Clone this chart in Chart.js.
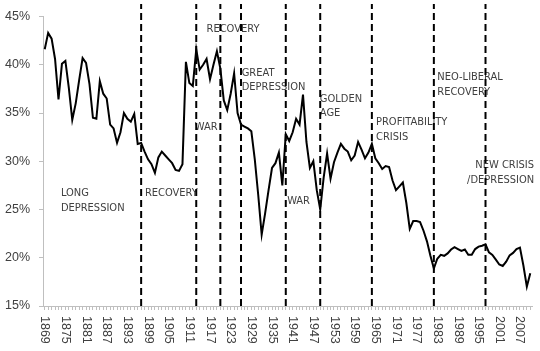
<!DOCTYPE html>
<html>
<head>
<meta charset="utf-8">
<script src="https://cdn.jsdelivr.net/npm/chart.js@4.4.0/dist/chart.umd.min.js"></script>
<style>
  body { margin: 0; background: #fff; }
  #wrap { width: 540px; height: 351px; }
</style>
</head>
<body>
<div id="wrap"><canvas id="grafico" width="540" height="351"></canvas></div>
<script>
// DADOS
const firstYear = 1869;
const lastYear = 2010;

const years = [];
for (let y = firstYear; y <= lastYear; y++) years.push(String(y));

// taxa de lucro (%), 1869-2010
const profitRate = [
  41.6, 43.3, 42.7, 40.6, 36.4, 40.1, 40.4, 37.6, 34.3, 36.0,   // 1869-1878
  38.4, 40.7, 40.2, 38.0, 34.5, 34.4, 38.3, 37.0, 36.5, 33.8,   // 1879-1888
  33.4, 31.9, 33.0, 35.0, 34.4, 34.1, 34.9, 31.8, 31.9, 31.0,   // 1889-1898
  30.2, 29.7, 28.8, 30.4, 31.0, 30.6, 30.2, 29.8, 29.1, 29.0,   // 1899-1908
  29.7, 40.3, 38.1, 37.8, 41.6, 39.5, 40.0, 40.6, 38.5, 40.0,   // 1909-1918
  41.4, 39.6, 36.3, 35.3, 37.0, 39.1, 35.0, 33.8, 33.6, 33.4,   // 1919-1928
  33.1, 30.2, 26.5, 22.4, 24.6, 27.0, 29.3, 29.8, 30.9, 27.5,   // 1929-1938
  32.8, 32.1, 33.0, 34.4, 33.8, 36.9, 32.0, 29.3, 30.0, 27.0,   // 1939-1948
  25.0, 28.3, 30.8, 28.2, 29.9, 30.9, 31.8, 31.3, 31.0, 30.1,   // 1949-1958
  30.6, 32.0, 31.2, 30.3, 30.9, 31.8, 30.3, 29.8, 29.2, 29.5,   // 1959-1968
  29.4, 28.0, 27.0, 27.4, 27.8, 25.7, 23.0, 23.8, 23.8, 23.7,   // 1969-1978
  22.8, 21.7, 20.2, 18.9, 19.9, 20.3, 20.2, 20.45, 20.85, 21.1, // 1979-1988
  20.9, 20.7, 20.85, 20.3, 20.3, 20.9, 21.15, 21.25, 21.4, 20.55, // 1989-1998
  20.3, 19.8, 19.3, 19.15, 19.6, 20.25, 20.5, 20.9, 21.05, 19.2, // 1999-2008
  17.0, 18.4                                                     // 2009-2010
];

// anos das linhas tracejadas (mudanca de fase)
const phaseYears = ['1897', '1913', '1920', '1926', '1939', '1949', '1964', '1982', '1997'];
const phaseSpan = [15, 46.3];

const yTicks = [15, 20, 25, 30, 35, 40, 45];

// textos das fases: ano e valor de ancoragem
const phaseNotes = [
  { lines: ['LONG', 'DEPRESSION'], year: 1873.7, value: 26.66 },
  { lines: ['RECOVERY'], year: 1898.1, value: 26.66 },
  { lines: ['WAR'], year: 1912.6, value: 33.57 },
  { lines: ['RECOVERY'], year: 1916.0, value: 43.74 },
  { lines: ['GREAT', 'DEPRESSION'], year: 1926.2, value: 39.15 },
  { lines: ['WAR'], year: 1939.4, value: 25.82 },
  { lines: ['GOLDEN', 'AGE'], year: 1948.9, value: 36.46 },
  { lines: ['PROFITABILITY', 'CRISIS'], year: 1965.2, value: 34.05 },
  { lines: ['NEO-LIBERAL', 'RECOVERY'], year: 1983.0, value: 38.67 },
  { lines: ['NEW CRISIS', '/DEPRESSION'], year: 2011.1, value: 29.56, align: 'right' }
];

//  PLUGIN DE TEXTOS
const textos = {
  id: 'textos',
  beforeDatasetsDraw(chart) {
    const ctx = chart.ctx;
    const xs = chart.scales.x;
    const ys = chart.scales.y;
    ctx.save();
    ctx.fillStyle = '#404040';
    ctx.textBaseline = 'middle';

    // rotulos do eixo x (girados no sentido horario)
    ctx.font = '12.5px "Liberation Sans", Arial, sans-serif';
    ctx.textAlign = 'left';
    xs.ticks.forEach(function (t, i) {
      if (!t.label) return;
      ctx.save();
      ctx.translate(xs.getPixelForTick(i), chart.chartArea.bottom + 10);
      ctx.rotate(Math.PI / 2);
      ctx.fillText(t.label, 0, 0);
      ctx.restore();
    });

    // notas das fases
    ctx.font = '11px "Liberation Sans Narrow", "DejaVu Sans Condensed", sans-serif';
    phaseNotes.forEach(function (n) {
      const px = xs.getPixelForValue(n.year - firstYear);
      const py = ys.getPixelForValue(n.value);
      ctx.textAlign = n.align || 'left';
      n.lines.forEach(function (s, k) {
        ctx.fillText(s, px, py + k * 14.5);
      });
    });
    ctx.restore();
  }
};

//  DATASETS
const datasets = [
  {
    label: 'taxa de lucro',
    data: profitRate,
    borderColor: '#000',
    borderWidth: 2,
    pointRadius: 0,
    tension: 0,
    order: 1
  }
];

phaseYears.forEach(function (ano) {
  datasets.push({
    label: 'fase ' + ano,
    data: [{ x: ano, y: phaseSpan[0] }, { x: ano, y: phaseSpan[1] }],
    borderColor: '#000',
    borderWidth: 2,
    borderDash: [7, 4],
    pointRadius: 0,
    clip: false,
    order: 2
  });
});

//  GRAFICO
new Chart(document.getElementById('grafico'), {
  type: 'line',
  data: { labels: years, datasets: datasets },
  options: {
    responsive: false,
    animation: false,
    events: [],
    layout: { padding: { top: 13, right: 8, left: 0, bottom: 0 } },
    plugins: {
      legend: { display: false },
      tooltip: { enabled: false }
    },
    scales: {
      x: {
        type: 'category',
        offset: true,
        border: { color: '#bfbfbf', width: 1 },
        grid: { display: true, drawOnChartArea: false, color: '#bfbfbf', tickLength: 4 },
        ticks: {
          display: false,
          autoSkip: false,
          callback: function (v, i) {
            return (i % 6 === 0) ? years[i] : '';
          }
        },
        afterFit: function (s) { s.height = 45; }
      },
      y: {
        min: 15,
        max: 45,
        border: { color: '#bfbfbf', width: 1 },
        grid: { display: true, drawOnChartArea: false, color: '#bfbfbf', tickLength: 4 },
        afterBuildTicks: function (s) {
          s.ticks = yTicks.map(function (v) { return { value: v }; });
        },
        ticks: {
          color: '#404040',
          padding: 9,
          font: { family: '"Liberation Sans", Arial, sans-serif', size: 12.5 },
          callback: function (v) { return v + '%'; }
        },
        afterFit: function (s) { s.width = 43; }
      }
    }
  },
  plugins: [textos]
});
</script>
</body>
</html>
